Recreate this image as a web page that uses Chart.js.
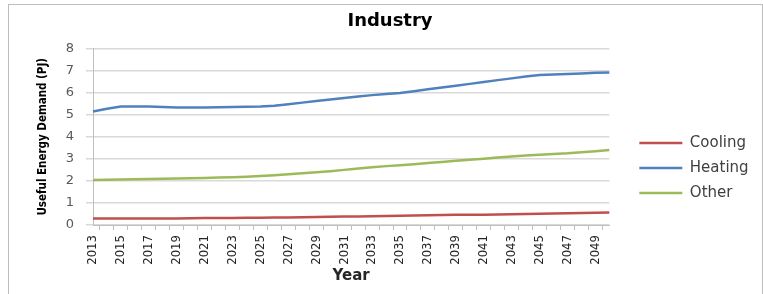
<!DOCTYPE html>
<html>
<head>
<meta charset="utf-8">
<script src="https://cdn.jsdelivr.net/npm/chart.js@4/dist/chart.umd.min.js"></script>
<style>
  html, body { margin: 0; padding: 0; background: #fff; }
  #frame { position: absolute; left: 8px; top: 4px; width: 753px; height: 300px; border: 1px solid #bdbdbd; }
  #wrap { position: absolute; left: 0; top: 0; width: 763px; height: 294px; }
</style>
</head>
<body>
<div id="frame"></div>
<div id="wrap"><canvas id="chart"></canvas></div>
<script>
// Industry - useful energy demand per end use

const years = ['2013', '2014', '2015', '2016', '2017', '2018', '2019', '2020', '2021', '2022',
  '2023', '2024', '2025', '2026', '2027', '2028', '2029', '2030', '2031', '2032',
  '2033', '2034', '2035', '2036', '2037', '2038', '2039', '2040', '2041', '2042',
  '2043', '2044', '2045', '2046', '2047', '2048', '2049', '2050'];

const cooling = [0.30, 0.30, 0.30, 0.30, 0.30, 0.30, 0.30, 0.31, 0.32, 0.32,
  0.32, 0.33, 0.33, 0.34, 0.34, 0.35, 0.36, 0.37, 0.38, 0.39,
  0.40, 0.41, 0.42, 0.43, 0.44, 0.45, 0.46, 0.47, 0.47, 0.48,
  0.49, 0.50, 0.51, 0.52, 0.53, 0.54, 0.55, 0.57];

const heating = [5.15, 5.27, 5.37, 5.37, 5.37, 5.35, 5.33, 5.33, 5.33, 5.34,
  5.35, 5.36, 5.37, 5.41, 5.48, 5.55, 5.62, 5.69, 5.76, 5.83,
  5.89, 5.94, 5.99, 6.07, 6.16, 6.24, 6.32, 6.40, 6.49, 6.57,
  6.65, 6.73, 6.80, 6.82, 6.85, 6.87, 6.90, 6.92];

const other = [2.04, 2.05, 2.06, 2.07, 2.09, 2.10, 2.11, 2.12, 2.13, 2.15,
  2.17, 2.19, 2.22, 2.26, 2.30, 2.35, 2.39, 2.44, 2.50, 2.56,
  2.62, 2.67, 2.71, 2.76, 2.81, 2.86, 2.91, 2.96, 3.01, 3.06,
  3.11, 3.15, 3.19, 3.22, 3.25, 3.30, 3.35, 3.40];

const yTicks = [0, 1, 2, 3, 4, 5, 6, 7, 8];

const narrow = '"DejaVu Sans Condensed", "Liberation Sans", sans-serif';
const wide = '"DejaVu Sans", Verdana, sans-serif';

function serie(label, data, color) {
  return {
    label: label,
    data: data,
    borderColor: color,
    backgroundColor: color,
    borderWidth: 2.5,
    pointRadius: 0,
    tension: 0
  };
}

new Chart(document.getElementById('chart'), {
  type: 'line',
  data: {
    labels: years,
    datasets: [
      serie('Cooling', cooling, '#c0504d'),
      serie('Heating', heating, '#4f81bd'),
      serie('Other', other, '#9bbb59')
    ]
  },
  options: {
    responsive: true,
    maintainAspectRatio: false,
    animation: false,
    layout: {
      padding: { left: 31, right: 14, top: 0, bottom: 0 }
    },
    scales: {
      x: {
        grid: {
          offset: true,
          drawOnChartArea: false,
          color: '#bfbfbf',
          tickLength: 5
        },
        border: { color: '#bfbfbf' },
        ticks: {
          autoSkip: false,
          maxRotation: 90,
          minRotation: 90,
          padding: 5,
          color: '#262626',
          font: { family: narrow, size: 13 },
          callback: function(value, index) {
            // une annee sur deux
            return index % 2 === 0 ? this.getLabelForValue(value) : '';
          }
        },
        title: {
          display: true,
          text: 'Year',
          color: '#262626',
          font: { family: wide, size: 15, weight: 'bold' },
          padding: { top: 0, bottom: 9 }
        },
        afterFit: function(scale) { scale.height = 69; }
      },
      y: {
        min: 0,
        max: 8,
        afterBuildTicks: function(scale) {
          scale.ticks = yTicks.map(v => ({ value: v }));
        },
        grid: {
          color: '#d9d9d9',
          lineWidth: 1.5,
          tickLength: 7
        },
        border: { color: '#bfbfbf' },
        ticks: {
          padding: 12,
          color: '#595959',
          font: { family: wide, size: 13 }
        },
        title: {
          display: true,
          text: 'Useful Energy Demand (PJ)',
          color: '#000',
          font: { family: narrow, size: 11.5, weight: 'bold' },
          padding: { top: 5, bottom: 0 }
        },
        afterFit: function(scale) { scale.width = 62; }
      },
      // axe vide : espace entre le graphique et la legende
      gap: {
        position: 'right',
        display: true,
        grid: { display: false },
        border: { display: false },
        ticks: { display: false },
        afterFit: function(scale) { scale.width = 20; }
      }
    },
    plugins: {
      title: {
        display: true,
        text: 'Industry',
        color: '#000',
        font: { family: wide, size: 18, weight: 'bold' },
        padding: { top: 11, bottom: 16 }
      },
      legend: {
        position: 'right',
        title: {
          // titre vide pour descendre la legende
          display: true,
          text: '',
          font: { size: 10 },
          padding: { top: 15, bottom: 15 }
        },
        labels: {
          usePointStyle: true,
          pointStyle: 'line',
          pointStyleWidth: 43,
          padding: 10,
          color: '#404040',
          font: { family: wide, size: 15 }
        }
      },
      tooltip: { enabled: false }
    }
  }
});
</script>
</body>
</html>
